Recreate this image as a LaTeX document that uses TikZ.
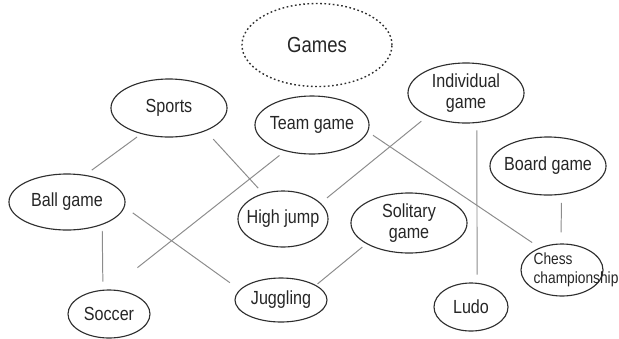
\documentclass[tikz,border=0pt]{standalone}
\usepackage{fontspec}
\setmainfont{Liberation Sans}[FakeStretch=0.85]
\usetikzlibrary{shapes.geometric}
\definecolor{edgegray}{HTML}{8C8C8C}
\definecolor{rimgray}{HTML}{2E2E2E}
\tikzset{ovally/.style={draw=rimgray,ellipse,inner sep=0,line width=0.8pt},
    dotty/.style={draw=rimgray,ellipse,inner sep=0,dash pattern=on 1.2pt off 1.8pt,line width=1pt},
    linky/.style={draw=edgegray,line width=0.7pt,shorten <=4pt,shorten >=4pt},
    every label/.style={align=center,font=\fontsize{13.5}{15.5}\selectfont,text=black!85}
}

\begin{document}
\begin{tikzpicture}[x=0.025cm,y=-0.025cm]

\useasboundingbox (0,0) rectangle (619,338);

% the category ovals

\node (games) at (317,45) [dotty,minimum width=3.75cm,minimum height=2.075cm,label={[font=\fontsize{15.5}{18}\selectfont]center:Games}] {};
\node (sports) at (169,108) [ovally,minimum width=2.9cm,minimum height=1.45cm,label={center:Sports}] {};
\node (teamGame) at (312,125) [ovally,minimum width=2.85cm,minimum height=1.45cm,label={center:Team game}] {};
\node (indivGame) at (466,93) [ovally,minimum width=2.9cm,minimum height=1.5cm,label={center:Individual\\game}] {};
\node (boardGame) at (548,166) [ovally,minimum width=2.9cm,minimum height=1.45cm,label={center:Board game}] {};
\node (ballGame) at (67,202) [ovally,minimum width=2.9cm,minimum height=1.4cm,label={center:Ball game}] {};
\node (highJump) at (283,219) [ovally,minimum width=2.25cm,minimum height=1.4cm,label={center:High jump}] {};
\node (solGame) at (409,223) [ovally,minimum width=2.9cm,minimum height=1.5cm,label={center:Solitary\\game}] {};

% the leaves

\node (chess) at (562,270) [ovally,minimum width=2.05cm,minimum height=1.3cm,label={[align=left,xshift=0.35cm,font=\fontsize{11.5}{13.5}\selectfont]center:Chess\\championship}] {};
\node (soccer) at (109,314) [ovally,minimum width=2.05cm,minimum height=1.2cm,label={center:Soccer}] {};
\node (juggling) at (281,300) [ovally,minimum width=2.3cm,minimum height=1.1cm,label={center:Juggling}] {};
\node (ludo) at (471,307) [ovally,minimum width=1.85cm,minimum height=1.2cm,label={center:Ludo}] {};

% links

\draw [linky,shorten <=3.6pt,shorten >=5.7pt] (sports.223) -- (ballGame.56);
\draw [linky,shorten <=7.8pt,shorten >=5pt] (sports.328) -- (highJump.128);
\draw [linky,shorten <=5pt,shorten >=25pt] (teamGame.224) -- (soccer.88);
\draw [linky,shorten <=5.7pt,shorten >=5.7pt] (indivGame.211) -- (highJump.23);
\draw [linky,shorten <=4.3pt,shorten >=6.4pt] (teamGame.353) -- (chess.135);
\draw [linky,shorten <=5.3pt,shorten >=5.7pt] (indivGame.290) -- (ludo.76);
\draw [linky,shorten <=5.7pt,shorten >=7.8pt] (boardGame.295) -- (chess.92);
\draw [linky,shorten <=4.3pt,shorten >=5.7pt] (ballGame.327) -- (soccer.104);
\draw [linky,shorten <=7.1pt,shorten >=8.5pt] (ballGame.355) -- (juggling.166);
\draw [linky,shorten <=3.6pt,shorten >=1.4pt] (solGame.206) -- (juggling.23);

\end{tikzpicture}
\end{document}
